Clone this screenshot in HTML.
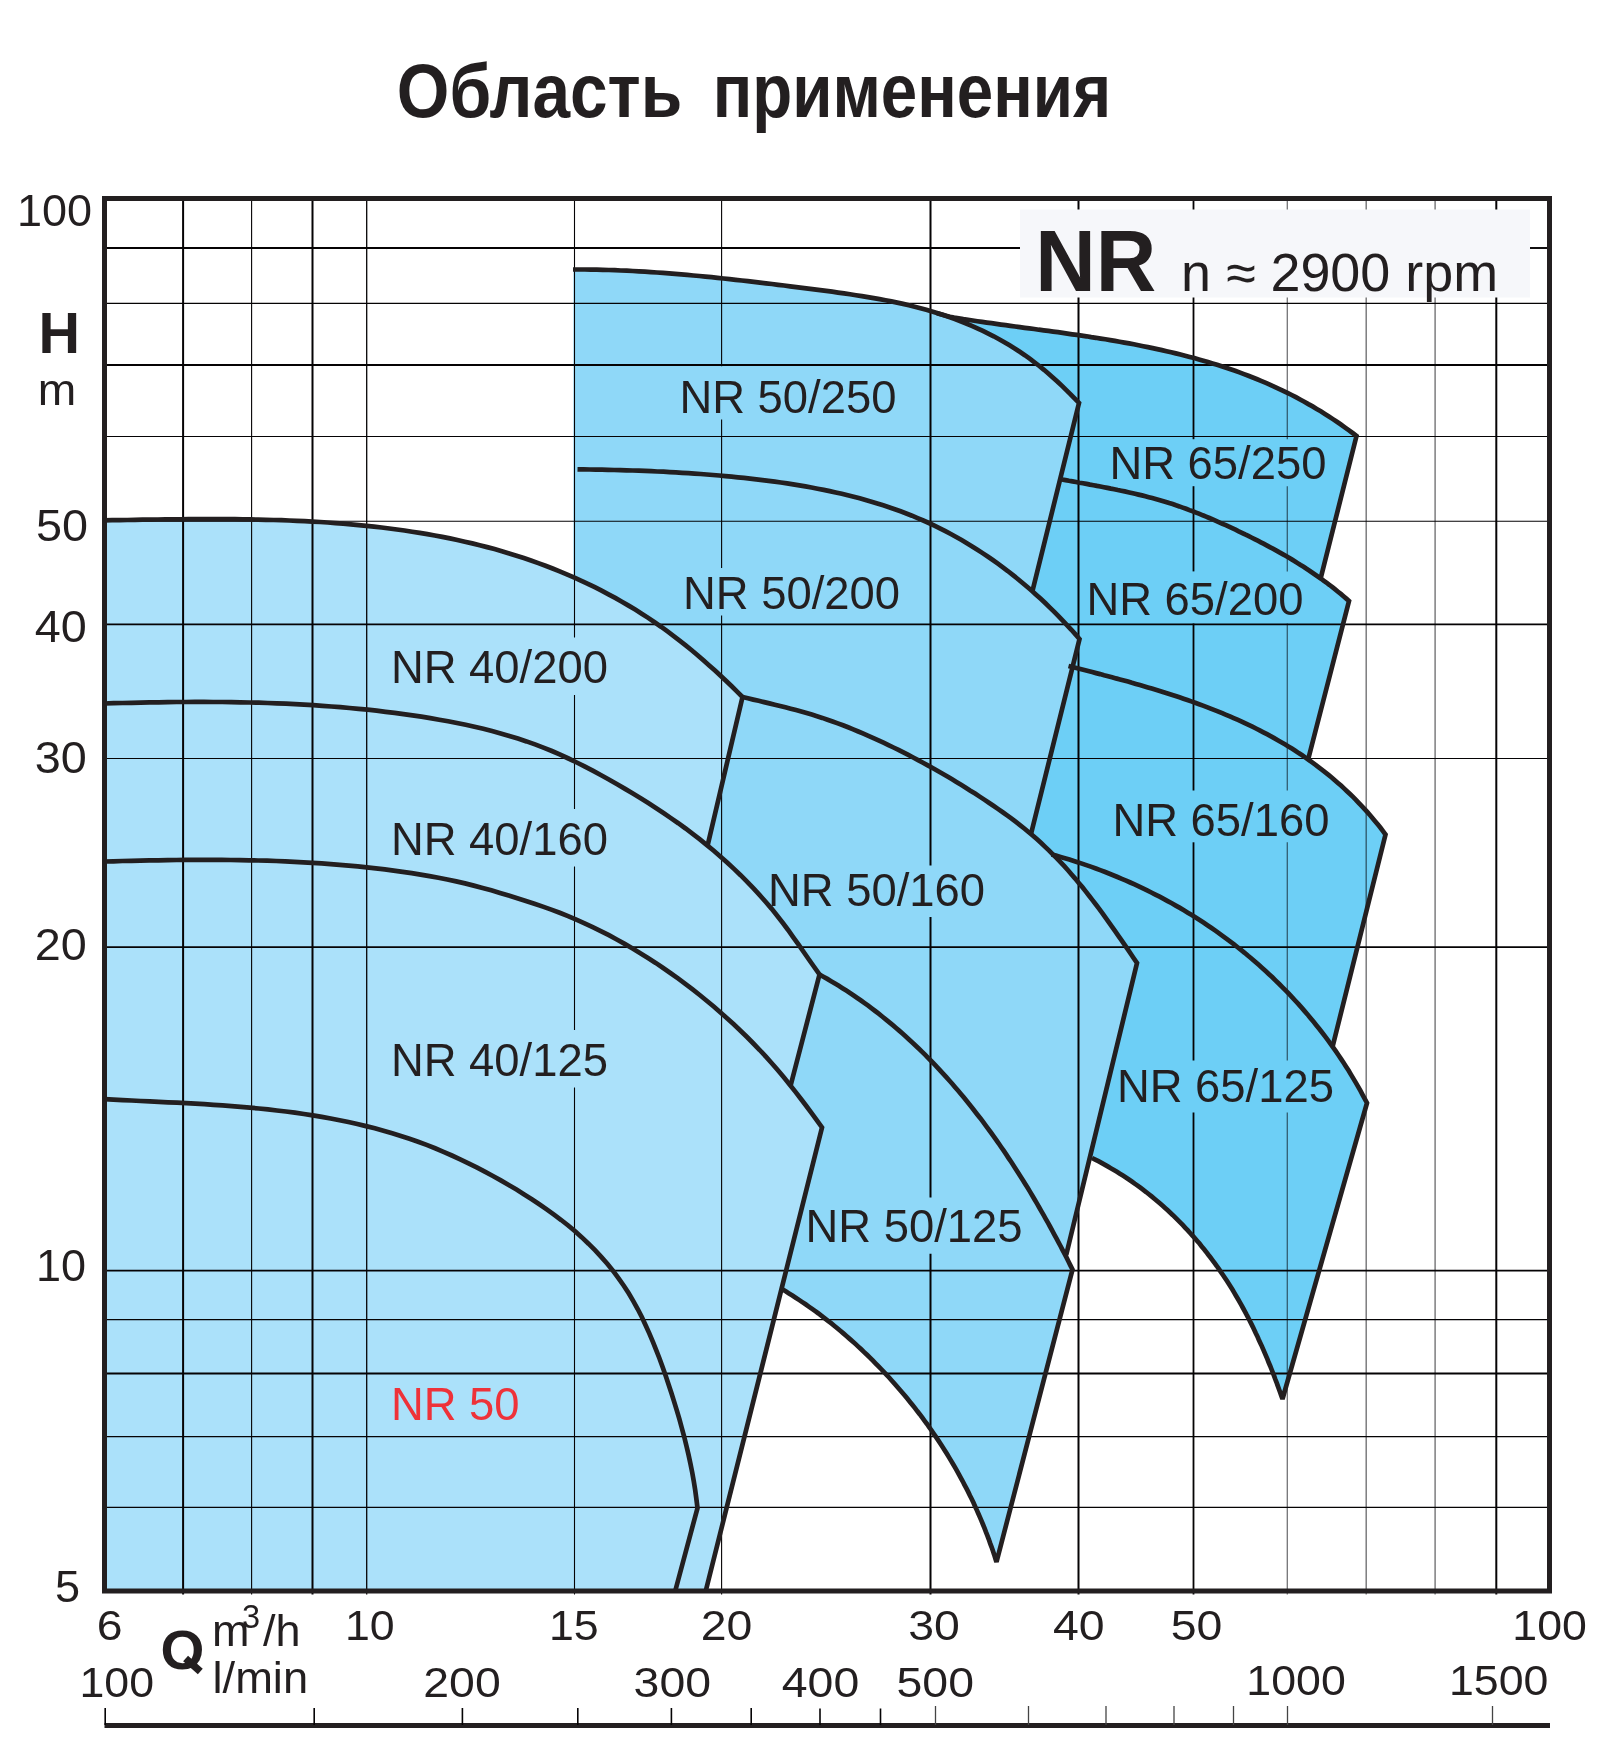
<!DOCTYPE html>
<html><head><meta charset="utf-8"><title>NR</title>
<style>
html,body{margin:0;padding:0;background:#fff;}
body{width:1600px;height:1764px;overflow:hidden;font-family:"Liberation Sans",sans-serif;}
svg{display:block;}
text{font-family:"Liberation Sans",sans-serif;fill:#231f20;}
</style></head><body>
<svg width="1600" height="1764" viewBox="0 0 1600 1764">
<rect width="1600" height="1764" fill="#fff"/>
<path d="M954.0,317.6 L958.7,318.3 L963.3,319.1 L968.0,319.8 L972.7,320.5 L977.4,321.2 L982.1,321.9 L986.8,322.6 L991.5,323.2 L996.2,323.9 L1001.0,324.6 L1005.7,325.2 L1010.4,325.8 L1015.2,326.5 L1019.9,327.1 L1024.7,327.8 L1029.4,328.4 L1034.2,329.0 L1038.9,329.7 L1043.7,330.3 L1048.4,330.9 L1053.2,331.6 L1057.9,332.2 L1062.7,332.9 L1067.4,333.6 L1072.2,334.3 L1077.0,334.9 L1081.7,335.6 L1086.5,336.3 L1091.2,337.1 L1096.0,337.8 L1100.7,338.6 L1105.4,339.3 L1110.2,340.1 L1114.9,340.9 L1119.6,341.7 L1124.4,342.6 L1129.1,343.4 L1133.8,344.3 L1138.5,345.2 L1143.2,346.2 L1147.9,347.1 L1152.6,348.1 L1157.2,349.1 L1161.9,350.1 L1166.5,351.2 L1171.2,352.3 L1175.8,353.4 L1180.5,354.5 L1185.1,355.7 L1189.7,356.9 L1194.3,358.1 L1198.9,359.4 L1203.4,360.7 L1208.0,362.0 L1212.5,363.4 L1217.1,364.8 L1221.6,366.3 L1226.1,367.8 L1230.6,369.3 L1235.1,370.8 L1239.5,372.4 L1244.0,374.1 L1248.4,375.8 L1252.8,377.5 L1257.2,379.3 L1261.6,381.1 L1265.9,382.9 L1270.3,384.8 L1274.6,386.8 L1278.9,388.8 L1283.2,390.8 L1287.4,392.9 L1291.7,395.0 L1295.9,397.2 L1300.1,399.5 L1304.3,401.7 L1308.4,404.1 L1312.6,406.4 L1316.7,408.9 L1320.8,411.3 L1324.9,413.9 L1328.9,416.5 L1332.9,419.1 L1336.9,421.8 L1340.9,424.5 L1344.8,427.3 L1348.7,430.1 L1352.6,433.0 L1356.5,436.0 L1356.5,436.0 L1321.0,577.0 L1321.0,577.0 L1323.9,580.8 L1326.8,582.9 L1329.6,585.0 L1332.4,587.2 L1335.2,589.4 L1338.0,591.7 L1340.8,593.9 L1343.5,596.2 L1346.3,598.6 L1349.0,601.0 L1349.0,601.0 L1308.0,760.0 L1308.0,760.0 L1312.2,762.4 L1315.6,764.8 L1318.8,767.3 L1322.1,769.8 L1325.3,772.3 L1328.5,774.9 L1331.7,777.5 L1334.8,780.2 L1337.9,782.9 L1341.0,785.6 L1344.0,788.4 L1347.0,791.2 L1350.0,794.0 L1353.0,796.9 L1355.9,799.8 L1358.7,802.8 L1361.6,805.8 L1364.4,808.8 L1367.2,811.9 L1369.9,815.0 L1372.6,818.2 L1375.3,821.4 L1377.9,824.6 L1380.5,827.8 L1383.0,831.2 L1385.5,834.5 L1385.5,834.5 L1332.5,1047.0 L1332.5,1047.0 L1335.8,1051.2 L1338.4,1055.0 L1341.0,1058.9 L1343.6,1062.8 L1346.1,1066.7 L1348.6,1070.6 L1351.0,1074.6 L1353.4,1078.6 L1355.8,1082.6 L1358.1,1086.6 L1360.4,1090.7 L1362.6,1094.8 L1364.8,1098.9 L1367.0,1103.0 L1367.0,1103.0 L1282.5,1399.0 L1282.5,1399.0 L1281.3,1395.7 L1280.1,1392.3 L1278.9,1389.0 L1277.7,1385.6 L1276.5,1382.3 L1275.2,1379.0 L1274.0,1375.7 L1272.7,1372.4 L1271.4,1369.0 L1270.1,1365.7 L1268.7,1362.5 L1267.4,1359.2 L1266.0,1355.9 L1264.6,1352.6 L1263.2,1349.4 L1261.8,1346.1 L1260.3,1342.9 L1258.8,1339.7 L1257.4,1336.4 L1255.8,1333.2 L1254.3,1330.0 L1252.8,1326.8 L1251.2,1323.7 L1249.6,1320.5 L1248.0,1317.3 L1246.3,1314.2 L1244.7,1311.1 L1243.0,1308.0 L1241.3,1304.9 L1239.6,1301.8 L1237.8,1298.7 L1236.0,1295.7 L1234.2,1292.6 L1232.4,1289.6 L1230.5,1286.6 L1228.6,1283.6 L1226.7,1280.6 L1224.8,1277.7 L1222.8,1274.7 L1220.8,1271.8 L1218.8,1268.9 L1216.8,1266.0 L1214.7,1263.1 L1212.6,1260.3 L1210.5,1257.5 L1208.3,1254.7 L1206.2,1251.9 L1203.9,1249.1 L1201.7,1246.4 L1199.5,1243.6 L1197.2,1240.9 L1194.9,1238.3 L1192.5,1235.6 L1190.1,1233.0 L1187.8,1230.4 L1185.3,1227.8 L1182.9,1225.2 L1180.4,1222.7 L1177.9,1220.2 L1175.4,1217.7 L1172.9,1215.2 L1170.3,1212.8 L1167.7,1210.3 L1165.1,1208.0 L1162.4,1205.6 L1159.8,1203.3 L1157.1,1201.0 L1154.4,1198.7 L1151.6,1196.4 L1148.9,1194.2 L1146.1,1192.0 L1143.3,1189.9 L1140.4,1187.7 L1137.6,1185.6 L1134.7,1183.6 L1131.8,1181.5 L1128.9,1179.5 L1125.9,1177.5 L1122.9,1175.6 L1119.9,1173.7 L1116.9,1171.8 L1113.9,1170.0 L1110.8,1168.2 L1107.7,1166.4 L1104.6,1164.6 L1101.5,1162.9 L1098.4,1161.2 L1095.2,1159.6 L1092.0,1158.0 L1092.0,1158.0 L1000.0,1100.0 L960.0,320.0 Z" fill="#6dcff6"/>
<path d="M573.5,577.0 L573.5,269.5 L573.0,269.5 L578.9,269.5 L584.9,269.5 L590.9,269.6 L596.8,269.7 L602.8,269.9 L608.8,270.0 L614.8,270.2 L620.8,270.5 L626.8,270.7 L632.8,271.0 L638.9,271.4 L644.9,271.7 L650.9,272.1 L657.0,272.5 L663.0,272.9 L669.1,273.4 L675.1,273.9 L681.2,274.4 L687.2,274.9 L693.3,275.5 L699.4,276.0 L705.4,276.6 L711.5,277.2 L717.5,277.8 L723.6,278.5 L729.7,279.1 L735.7,279.8 L741.8,280.5 L747.8,281.2 L753.9,281.9 L760.0,282.6 L766.0,283.3 L772.0,284.0 L778.1,284.8 L784.1,285.5 L790.1,286.3 L796.2,287.1 L802.2,287.8 L808.2,288.6 L814.2,289.4 L820.2,290.1 L826.2,290.9 L832.2,291.7 L838.1,292.6 L844.1,293.4 L850.0,294.3 L856.0,295.2 L861.9,296.1 L867.8,297.1 L873.7,298.1 L879.6,299.1 L885.5,300.2 L891.4,301.4 L897.2,302.6 L903.1,303.9 L908.9,305.3 L914.7,306.7 L920.5,308.2 L926.3,309.8 L932.0,311.5 L937.8,313.3 L943.5,315.1 L949.2,317.1 L954.9,319.1 L960.6,321.3 L966.2,323.5 L971.8,325.9 L977.3,328.3 L982.9,330.9 L988.3,333.6 L993.7,336.3 L999.1,339.2 L1004.4,342.2 L1009.6,345.3 L1014.7,348.5 L1019.8,351.8 L1024.8,355.2 L1029.7,358.7 L1034.5,362.3 L1039.3,366.0 L1044.0,369.8 L1048.6,373.7 L1053.1,377.7 L1057.6,381.7 L1062.0,385.9 L1066.3,390.1 L1070.6,394.3 L1074.8,398.6 L1079.0,403.0 L1079.0,403.0 L1032.4,591.3 L1032.4,591.3 L1036.4,594.9 L1041.0,599.0 L1045.5,603.3 L1049.9,607.6 L1054.3,611.9 L1058.7,616.3 L1063.0,620.8 L1067.2,625.3 L1071.4,629.8 L1075.5,634.4 L1079.5,639.0 L1079.5,639.0 L1031.0,834.0 L1031.0,834.0 L1036.8,839.1 L1040.9,842.8 L1044.9,846.6 L1048.9,850.4 L1052.8,854.3 L1056.7,858.2 L1060.5,862.2 L1064.3,866.2 L1068.0,870.3 L1071.6,874.5 L1075.2,878.6 L1078.8,882.9 L1082.3,887.1 L1085.7,891.4 L1089.1,895.8 L1092.5,900.1 L1095.9,904.5 L1099.2,908.9 L1102.5,913.4 L1105.7,917.8 L1108.9,922.3 L1112.1,926.8 L1115.3,931.3 L1118.4,935.8 L1121.6,940.4 L1124.7,944.9 L1127.8,949.4 L1130.9,954.0 L1133.9,958.5 L1137.0,963.0 L1137.0,963.0 L1066.2,1255.0 L1066.2,1255.0 L1066.6,1257.7 L1068.6,1261.7 L1070.5,1265.6 L1072.5,1269.5 L1072.5,1269.5 L996.5,1562.0 L996.5,1562.0 L995.3,1558.2 L994.1,1554.4 L992.8,1550.6 L991.5,1546.8 L990.1,1543.1 L988.8,1539.3 L987.4,1535.6 L985.9,1531.9 L984.5,1528.2 L983.0,1524.5 L981.5,1520.8 L979.9,1517.1 L978.3,1513.5 L976.7,1509.9 L975.0,1506.2 L973.4,1502.6 L971.7,1499.0 L969.9,1495.5 L968.2,1491.9 L966.4,1488.4 L964.5,1484.8 L962.7,1481.3 L960.8,1477.8 L958.9,1474.3 L957.0,1470.9 L955.0,1467.4 L953.0,1464.0 L951.0,1460.6 L948.9,1457.1 L946.9,1453.8 L944.8,1450.4 L942.6,1447.0 L940.5,1443.7 L938.3,1440.4 L936.1,1437.1 L933.8,1433.8 L931.6,1430.5 L929.3,1427.3 L927.0,1424.0 L924.6,1420.8 L922.3,1417.6 L919.9,1414.4 L917.4,1411.3 L915.0,1408.1 L912.5,1405.0 L910.0,1401.9 L907.5,1398.8 L905.0,1395.7 L902.4,1392.7 L899.8,1389.7 L897.2,1386.7 L894.6,1383.7 L891.9,1380.7 L889.3,1377.7 L886.6,1374.8 L883.8,1371.9 L881.1,1369.0 L878.3,1366.1 L875.5,1363.3 L872.7,1360.4 L869.9,1357.6 L867.0,1354.8 L864.1,1352.1 L861.2,1349.3 L858.3,1346.6 L855.4,1343.9 L852.4,1341.2 L849.4,1338.6 L846.4,1336.0 L843.4,1333.4 L840.3,1330.8 L837.3,1328.3 L834.2,1325.7 L831.1,1323.2 L828.0,1320.8 L824.8,1318.3 L821.6,1315.9 L818.5,1313.5 L815.3,1311.2 L812.1,1308.9 L808.8,1306.6 L805.6,1304.3 L802.3,1302.1 L799.0,1299.9 L795.7,1297.7 L792.4,1295.5 L789.0,1293.4 L785.7,1291.3 L782.3,1289.3 L782.3,1289.5 L700.0,1100.0 L700.0,660.0 Z" fill="#8fd8f8"/>
<path d="M104.5,1591.0 L104.5,520.3 L104.5,520.3 L112.1,520.2 L119.7,520.1 L127.3,520.0 L134.9,519.8 L142.5,519.7 L150.2,519.6 L157.9,519.5 L165.5,519.4 L173.2,519.3 L180.9,519.3 L188.6,519.2 L196.3,519.2 L204.0,519.1 L211.8,519.1 L219.5,519.1 L227.2,519.2 L235.0,519.2 L242.7,519.3 L250.4,519.4 L258.2,519.6 L265.9,519.8 L273.7,520.0 L281.4,520.2 L289.2,520.5 L296.9,520.8 L304.6,521.2 L312.4,521.6 L320.1,522.0 L327.8,522.5 L335.5,523.1 L343.2,523.7 L350.9,524.3 L358.6,525.1 L366.3,525.8 L374.0,526.6 L381.6,527.5 L389.3,528.5 L396.9,529.5 L404.5,530.5 L412.1,531.7 L419.7,532.9 L427.3,534.1 L434.8,535.5 L442.3,536.9 L449.9,538.4 L457.4,540.0 L464.8,541.7 L472.3,543.4 L479.7,545.2 L487.1,547.1 L494.5,549.1 L501.9,551.2 L509.2,553.4 L516.5,555.7 L523.8,558.1 L531.0,560.5 L538.3,563.1 L545.5,565.7 L552.6,568.5 L559.7,571.4 L566.8,574.3 L573.9,577.4 L580.9,580.6 L587.9,583.8 L594.8,587.2 L601.6,590.7 L608.5,594.3 L615.2,597.9 L621.9,601.7 L628.6,605.6 L635.2,609.6 L641.7,613.7 L648.2,617.9 L654.6,622.3 L661.0,626.7 L667.2,631.2 L673.4,635.8 L679.6,640.6 L685.7,645.4 L691.7,650.3 L697.6,655.2 L703.4,660.3 L709.2,665.4 L715.0,670.5 L720.6,675.7 L726.2,681.0 L731.7,686.3 L737.1,691.6 L742.5,697.0 L742.5,697.0 L707.6,845.5 L707.6,845.5 L713.8,850.8 L720.6,856.7 L727.4,862.7 L734.0,868.9 L740.6,875.2 L747.0,881.6 L753.3,888.2 L759.5,894.9 L765.6,901.7 L771.5,908.6 L777.2,915.7 L782.7,922.8 L788.1,930.0 L793.3,937.3 L798.6,944.6 L803.7,952.0 L808.9,959.5 L814.2,967.0 L819.5,974.5 L819.5,974.5 L790.5,1086.0 L790.5,1086.0 L795.3,1091.6 L800.8,1098.8 L806.3,1106.0 L811.6,1113.2 L816.9,1120.4 L822.0,1127.5 L822.0,1127.5 L706.0,1590.0 Z" fill="#abe1fa"/>
<rect x="1020" y="209.5" width="510" height="88" fill="#f6f7fa"/>
<line x1="183.10" y1="198.5" x2="183.10" y2="1594.5" stroke="#050304" stroke-width="2.0"/>
<line x1="251.60" y1="198.5" x2="251.60" y2="1594.5" stroke="#050304" stroke-width="1.1"/>
<line x1="312.50" y1="198.5" x2="312.50" y2="1594.5" stroke="#050304" stroke-width="2.0"/>
<line x1="366.70" y1="198.5" x2="366.70" y2="1594.5" stroke="#050304" stroke-width="1.3"/>
<line x1="574.50" y1="198.5" x2="574.50" y2="637.5" stroke="#050304" stroke-width="1.1"/>
<line x1="574.50" y1="695.0" x2="574.50" y2="809.0" stroke="#050304" stroke-width="1.1"/>
<line x1="574.50" y1="866.5" x2="574.50" y2="1030.0" stroke="#050304" stroke-width="1.1"/>
<line x1="574.50" y1="1087.5" x2="574.50" y2="1594.5" stroke="#050304" stroke-width="1.1"/>
<line x1="721.60" y1="198.5" x2="721.60" y2="366.3" stroke="#050304" stroke-width="1.1"/>
<line x1="721.60" y1="419.5" x2="721.60" y2="568.0" stroke="#050304" stroke-width="1.1"/>
<line x1="721.60" y1="615.5" x2="721.60" y2="1594.5" stroke="#050304" stroke-width="1.1"/>
<line x1="930.50" y1="198.5" x2="930.50" y2="865.5" stroke="#050304" stroke-width="2.0"/>
<line x1="930.50" y1="917.0" x2="930.50" y2="1197.5" stroke="#050304" stroke-width="2.0"/>
<line x1="930.50" y1="1253.7" x2="930.50" y2="1594.5" stroke="#050304" stroke-width="2.0"/>
<line x1="1078.50" y1="198.5" x2="1078.50" y2="209.5" stroke="#050304" stroke-width="2.0"/>
<line x1="1078.50" y1="297.5" x2="1078.50" y2="1594.5" stroke="#050304" stroke-width="2.0"/>
<line x1="1193.50" y1="198.5" x2="1193.50" y2="209.5" stroke="#050304" stroke-width="1.8"/>
<line x1="1193.50" y1="297.5" x2="1193.50" y2="439.2" stroke="#050304" stroke-width="1.8"/>
<line x1="1193.50" y1="486.2" x2="1193.50" y2="571.4" stroke="#050304" stroke-width="1.8"/>
<line x1="1193.50" y1="623.5" x2="1193.50" y2="790.5" stroke="#050304" stroke-width="1.8"/>
<line x1="1193.50" y1="842.3" x2="1193.50" y2="1060.5" stroke="#050304" stroke-width="1.8"/>
<line x1="1193.50" y1="1112.5" x2="1193.50" y2="1594.5" stroke="#050304" stroke-width="1.8"/>
<line x1="1287.30" y1="198.5" x2="1287.30" y2="209.5" stroke="#737375" stroke-width="1.3" style="mix-blend-mode:multiply"/>
<line x1="1287.30" y1="297.5" x2="1287.30" y2="439.2" stroke="#737375" stroke-width="1.3" style="mix-blend-mode:multiply"/>
<line x1="1287.30" y1="486.2" x2="1287.30" y2="571.4" stroke="#737375" stroke-width="1.3" style="mix-blend-mode:multiply"/>
<line x1="1287.30" y1="623.5" x2="1287.30" y2="790.5" stroke="#737375" stroke-width="1.3" style="mix-blend-mode:multiply"/>
<line x1="1287.30" y1="842.3" x2="1287.30" y2="1060.5" stroke="#737375" stroke-width="1.3" style="mix-blend-mode:multiply"/>
<line x1="1287.30" y1="1112.5" x2="1287.30" y2="1594.5" stroke="#737375" stroke-width="1.3" style="mix-blend-mode:multiply"/>
<line x1="1366.20" y1="198.5" x2="1366.20" y2="209.5" stroke="#737375" stroke-width="1.4" style="mix-blend-mode:multiply"/>
<line x1="1366.20" y1="297.5" x2="1366.20" y2="1594.5" stroke="#737375" stroke-width="1.4" style="mix-blend-mode:multiply"/>
<line x1="1435.10" y1="198.5" x2="1435.10" y2="209.5" stroke="#737375" stroke-width="1.4" style="mix-blend-mode:multiply"/>
<line x1="1435.10" y1="297.5" x2="1435.10" y2="1594.5" stroke="#737375" stroke-width="1.4" style="mix-blend-mode:multiply"/>
<line x1="1496.30" y1="198.5" x2="1496.30" y2="209.5" stroke="#050304" stroke-width="2.0"/>
<line x1="1496.30" y1="297.5" x2="1496.30" y2="1594.5" stroke="#050304" stroke-width="2.0"/>
<line x1="104.5" y1="248.00" x2="1020.0" y2="248.00" stroke="#050304" stroke-width="1.9"/>
<line x1="1530.0" y1="248.00" x2="1549.5" y2="248.00" stroke="#050304" stroke-width="1.9"/>
<line x1="104.5" y1="303.40" x2="1549.5" y2="303.40" stroke="#050304" stroke-width="1.1"/>
<line x1="104.5" y1="365.00" x2="1549.5" y2="365.00" stroke="#050304" stroke-width="1.9"/>
<line x1="104.5" y1="436.50" x2="1549.5" y2="436.50" stroke="#050304" stroke-width="1.1"/>
<line x1="104.5" y1="521.30" x2="1549.5" y2="521.30" stroke="#050304" stroke-width="1.1"/>
<line x1="104.5" y1="624.40" x2="1549.5" y2="624.40" stroke="#050304" stroke-width="1.9"/>
<line x1="104.5" y1="758.50" x2="1549.5" y2="758.50" stroke="#050304" stroke-width="1.1"/>
<line x1="104.5" y1="947.20" x2="1549.5" y2="947.20" stroke="#050304" stroke-width="1.8"/>
<line x1="104.5" y1="1270.60" x2="1549.5" y2="1270.60" stroke="#050304" stroke-width="1.8"/>
<line x1="104.5" y1="1319.60" x2="1549.5" y2="1319.60" stroke="#050304" stroke-width="1.1"/>
<line x1="104.5" y1="1373.50" x2="1549.5" y2="1373.50" stroke="#050304" stroke-width="1.8"/>
<line x1="104.5" y1="1436.60" x2="1549.5" y2="1436.60" stroke="#050304" stroke-width="1.1"/>
<line x1="104.5" y1="1507.40" x2="1549.5" y2="1507.40" stroke="#050304" stroke-width="1.1"/>
<rect x="104.5" y="198.5" width="1445.0" height="1392.5" fill="none" stroke="#231f20" stroke-width="5"/>
<path d="M104.5,520.3 L112.1,520.2 L119.7,520.1 L127.3,520.0 L134.9,519.8 L142.5,519.7 L150.2,519.6 L157.9,519.5 L165.5,519.4 L173.2,519.3 L180.9,519.3 L188.6,519.2 L196.3,519.2 L204.0,519.1 L211.8,519.1 L219.5,519.1 L227.2,519.2 L235.0,519.2 L242.7,519.3 L250.4,519.4 L258.2,519.6 L265.9,519.8 L273.7,520.0 L281.4,520.2 L289.2,520.5 L296.9,520.8 L304.6,521.2 L312.4,521.6 L320.1,522.0 L327.8,522.5 L335.5,523.1 L343.2,523.7 L350.9,524.3 L358.6,525.1 L366.3,525.8 L374.0,526.6 L381.6,527.5 L389.3,528.5 L396.9,529.5 L404.5,530.5 L412.1,531.7 L419.7,532.9 L427.3,534.1 L434.8,535.5 L442.3,536.9 L449.9,538.4 L457.4,540.0 L464.8,541.7 L472.3,543.4 L479.7,545.2 L487.1,547.1 L494.5,549.1 L501.9,551.2 L509.2,553.4 L516.5,555.7 L523.8,558.1 L531.0,560.5 L538.3,563.1 L545.5,565.7 L552.6,568.5 L559.7,571.4 L566.8,574.3 L573.9,577.4 L580.9,580.6 L587.9,583.8 L594.8,587.2 L601.6,590.7 L608.5,594.3 L615.2,597.9 L621.9,601.7 L628.6,605.6 L635.2,609.6 L641.7,613.7 L648.2,617.9 L654.6,622.3 L661.0,626.7 L667.2,631.2 L673.4,635.8 L679.6,640.6 L685.7,645.4 L691.7,650.3 L697.6,655.2 L703.4,660.3 L709.2,665.4 L715.0,670.5 L720.6,675.7 L726.2,681.0 L731.7,686.3 L737.1,691.6 L742.5,697.0 L707.6,845.5" fill="none" stroke="#231f20" stroke-width="4.7" stroke-linejoin="miter" stroke-miterlimit="3" stroke-linecap="butt"/>
<path d="M104.5,703.5 L113.5,703.2 L122.5,703.0 L131.5,702.8 L140.5,702.6 L149.5,702.4 L158.6,702.3 L167.6,702.1 L176.7,702.0 L185.8,702.0 L194.9,701.9 L204.0,701.9 L213.1,702.0 L222.2,702.0 L231.3,702.2 L240.4,702.3 L249.5,702.5 L258.6,702.7 L267.7,703.0 L276.8,703.4 L285.9,703.7 L295.0,704.2 L304.1,704.7 L313.2,705.2 L322.3,705.8 L331.4,706.5 L340.4,707.2 L349.5,708.0 L358.5,708.8 L367.6,709.7 L376.6,710.7 L385.6,711.8 L394.6,712.9 L403.5,714.1 L412.5,715.4 L421.4,716.7 L430.3,718.1 L439.2,719.7 L448.1,721.3 L456.9,723.0 L465.7,724.8 L474.5,726.8 L483.3,728.8 L492.0,731.0 L500.7,733.4 L509.3,735.9 L517.9,738.6 L526.5,741.4 L535.0,744.4 L543.4,747.6 L551.9,751.0 L560.2,754.6 L568.5,758.5 L576.8,762.5 L585.0,766.6 L593.2,770.9 L601.2,775.3 L609.3,779.7 L617.2,784.3 L625.1,788.9 L632.9,793.5 L640.7,798.3 L648.3,803.1 L655.9,808.0 L663.5,813.0 L670.9,818.1 L678.3,823.2 L685.6,828.5 L692.7,833.9 L699.9,839.4 L706.9,845.1 L713.8,850.8 L720.6,856.7 L727.4,862.7 L734.0,868.9 L740.6,875.2 L747.0,881.6 L753.3,888.2 L759.5,894.9 L765.6,901.7 L771.5,908.6 L777.2,915.7 L782.7,922.8 L788.1,930.0 L793.3,937.3 L798.6,944.6 L803.7,952.0 L808.9,959.5 L814.2,967.0 L819.5,974.5 L790.5,1086.0" fill="none" stroke="#231f20" stroke-width="4.7" stroke-linejoin="miter" stroke-miterlimit="3" stroke-linecap="butt"/>
<path d="M104.5,861.5 L113.5,861.3 L122.4,861.0 L131.4,860.8 L140.4,860.6 L149.4,860.4 L158.4,860.3 L167.5,860.1 L176.5,860.0 L185.5,859.9 L194.6,859.9 L203.6,859.8 L212.7,859.9 L221.8,859.9 L230.8,860.0 L239.9,860.1 L249.0,860.3 L258.1,860.5 L267.1,860.7 L276.2,861.0 L285.3,861.4 L294.4,861.8 L303.4,862.3 L312.5,862.8 L321.6,863.4 L330.6,864.1 L339.7,864.8 L348.7,865.6 L357.7,866.4 L366.8,867.4 L375.8,868.4 L384.8,869.4 L393.7,870.6 L402.7,871.8 L411.7,873.1 L420.6,874.6 L429.5,876.1 L438.5,877.7 L447.3,879.5 L456.2,881.4 L465.0,883.4 L473.8,885.6 L482.6,887.9 L491.3,890.3 L500.0,892.9 L508.7,895.5 L517.3,898.2 L525.9,900.9 L534.4,903.7 L542.9,906.6 L551.3,909.6 L559.7,912.8 L568.1,916.1 L576.3,919.6 L584.6,923.3 L592.7,927.1 L600.8,931.1 L608.9,935.2 L616.8,939.5 L624.7,943.9 L632.6,948.5 L640.3,953.2 L648.0,958.0 L655.7,962.9 L663.2,968.0 L670.7,973.2 L678.0,978.4 L685.3,983.8 L692.6,989.4 L699.7,995.0 L706.7,1000.7 L713.7,1006.5 L720.5,1012.4 L727.3,1018.4 L734.0,1024.5 L740.5,1030.7 L747.0,1037.0 L753.4,1043.5 L759.7,1050.0 L765.9,1056.7 L772.0,1063.5 L777.9,1070.3 L783.8,1077.3 L789.6,1084.4 L795.3,1091.6 L800.8,1098.8 L806.3,1106.0 L811.6,1113.2 L816.9,1120.4 L822.0,1127.5 L706.0,1590.0" fill="none" stroke="#231f20" stroke-width="4.7" stroke-linejoin="miter" stroke-miterlimit="3" stroke-linecap="butt"/>
<path d="M104.5,1099.2 L113.5,1099.7 L122.6,1100.1 L131.6,1100.5 L140.7,1101.0 L149.8,1101.4 L158.9,1101.8 L168.0,1102.3 L177.1,1102.7 L186.2,1103.2 L195.3,1103.7 L204.4,1104.2 L213.5,1104.8 L222.5,1105.4 L231.6,1106.1 L240.7,1106.9 L249.8,1107.6 L258.8,1108.5 L267.9,1109.4 L276.9,1110.5 L285.9,1111.5 L294.9,1112.7 L303.9,1114.0 L312.8,1115.4 L321.8,1116.9 L330.7,1118.5 L339.6,1120.2 L348.4,1122.0 L357.3,1124.0 L366.0,1126.1 L374.8,1128.3 L383.5,1130.7 L392.2,1133.2 L400.9,1135.9 L409.5,1138.7 L418.1,1141.7 L426.6,1144.9 L435.1,1148.3 L443.5,1151.8 L451.9,1155.5 L460.2,1159.3 L468.5,1163.3 L476.7,1167.4 L484.8,1171.6 L492.9,1176.0 L500.8,1180.4 L508.7,1185.0 L516.5,1189.6 L524.2,1194.4 L531.8,1199.2 L539.3,1204.2 L546.7,1209.3 L554.0,1214.6 L561.2,1220.0 L568.2,1225.5 L575.1,1231.3 L581.9,1237.4 L588.5,1243.7 L595.0,1250.2 L601.2,1256.9 L607.3,1263.8 L613.1,1270.9 L618.6,1278.3 L623.8,1285.7 L628.7,1293.3 L633.3,1301.1 L637.7,1309.0 L641.8,1317.0 L645.6,1325.2 L649.3,1333.4 L652.8,1341.7 L656.2,1350.1 L659.5,1358.5 L662.6,1367.0 L665.6,1375.6 L668.5,1384.2 L671.4,1392.9 L674.1,1401.6 L676.8,1410.4 L679.4,1419.2 L681.8,1428.0 L684.2,1436.8 L686.4,1445.7 L688.5,1454.6 L690.4,1463.5 L692.2,1472.4 L693.8,1481.3 L695.2,1490.2 L696.4,1499.1 L697.5,1508.0 L675.5,1590.0" fill="none" stroke="#231f20" stroke-width="4.7" stroke-linejoin="miter" stroke-miterlimit="3" stroke-linecap="butt"/>
<path d="M573.0,269.5 L578.9,269.5 L584.9,269.5 L590.9,269.6 L596.8,269.7 L602.8,269.9 L608.8,270.0 L614.8,270.2 L620.8,270.5 L626.8,270.7 L632.8,271.0 L638.9,271.4 L644.9,271.7 L650.9,272.1 L657.0,272.5 L663.0,272.9 L669.1,273.4 L675.1,273.9 L681.2,274.4 L687.2,274.9 L693.3,275.5 L699.4,276.0 L705.4,276.6 L711.5,277.2 L717.5,277.8 L723.6,278.5 L729.7,279.1 L735.7,279.8 L741.8,280.5 L747.8,281.2 L753.9,281.9 L760.0,282.6 L766.0,283.3 L772.0,284.0 L778.1,284.8 L784.1,285.5 L790.1,286.3 L796.2,287.1 L802.2,287.8 L808.2,288.6 L814.2,289.4 L820.2,290.1 L826.2,290.9 L832.2,291.7 L838.1,292.6 L844.1,293.4 L850.0,294.3 L856.0,295.2 L861.9,296.1 L867.8,297.1 L873.7,298.1 L879.6,299.1 L885.5,300.2 L891.4,301.4 L897.2,302.6 L903.1,303.9 L908.9,305.3 L914.7,306.7 L920.5,308.2 L926.3,309.8 L932.0,311.5 L937.8,313.3 L943.5,315.1 L949.2,317.1 L954.9,319.1 L960.6,321.3 L966.2,323.5 L971.8,325.9 L977.3,328.3 L982.9,330.9 L988.3,333.6 L993.7,336.3 L999.1,339.2 L1004.4,342.2 L1009.6,345.3 L1014.7,348.5 L1019.8,351.8 L1024.8,355.2 L1029.7,358.7 L1034.5,362.3 L1039.3,366.0 L1044.0,369.8 L1048.6,373.7 L1053.1,377.7 L1057.6,381.7 L1062.0,385.9 L1066.3,390.1 L1070.6,394.3 L1074.8,398.6 L1079.0,403.0 L1032.4,591.3" fill="none" stroke="#231f20" stroke-width="4.7" stroke-linejoin="miter" stroke-miterlimit="3" stroke-linecap="butt"/>
<path d="M577.5,469.3 L583.6,469.4 L589.7,469.5 L595.8,469.6 L601.9,469.7 L608.1,469.8 L614.2,470.0 L620.4,470.1 L626.5,470.3 L632.7,470.5 L638.8,470.7 L645.0,470.9 L651.2,471.2 L657.3,471.5 L663.5,471.7 L669.7,472.1 L675.9,472.4 L682.1,472.8 L688.3,473.2 L694.5,473.6 L700.7,474.0 L706.8,474.5 L713.0,475.0 L719.2,475.5 L725.4,476.1 L731.6,476.6 L737.8,477.3 L744.0,477.9 L750.1,478.6 L756.3,479.3 L762.5,480.1 L768.6,480.8 L774.8,481.7 L780.9,482.5 L787.1,483.4 L793.2,484.4 L799.3,485.4 L805.4,486.4 L811.5,487.5 L817.6,488.7 L823.7,489.9 L829.7,491.1 L835.7,492.5 L841.8,493.8 L847.7,495.3 L853.7,496.8 L859.7,498.3 L865.6,500.0 L871.5,501.7 L877.3,503.5 L883.2,505.3 L889.0,507.2 L894.8,509.2 L900.6,511.3 L906.3,513.5 L912.0,515.7 L917.6,518.1 L923.3,520.5 L928.9,523.0 L934.4,525.6 L939.9,528.3 L945.4,531.1 L950.8,534.0 L956.2,537.0 L961.6,540.0 L966.9,543.2 L972.2,546.4 L977.4,549.7 L982.6,553.1 L987.7,556.5 L992.8,560.0 L997.9,563.6 L1002.9,567.3 L1007.8,571.0 L1012.7,574.9 L1017.5,578.7 L1022.3,582.7 L1027.1,586.7 L1031.8,590.7 L1036.4,594.9 L1041.0,599.0 L1045.5,603.3 L1049.9,607.6 L1054.3,611.9 L1058.7,616.3 L1063.0,620.8 L1067.2,625.3 L1071.4,629.8 L1075.5,634.4 L1079.5,639.0 L1031.0,834.0" fill="none" stroke="#231f20" stroke-width="4.7" stroke-linejoin="miter" stroke-miterlimit="3" stroke-linecap="butt"/>
<path d="M742.5,697.0 L747.9,698.3 L753.3,699.6 L758.7,700.8 L764.1,702.1 L769.4,703.4 L774.8,704.7 L780.1,706.0 L785.4,707.3 L790.7,708.7 L796.0,710.1 L801.3,711.6 L806.6,713.1 L811.8,714.6 L817.0,716.2 L822.3,717.9 L827.5,719.7 L832.6,721.5 L837.8,723.4 L843.0,725.3 L848.1,727.3 L853.2,729.4 L858.3,731.5 L863.4,733.6 L868.4,735.8 L873.5,738.1 L878.5,740.4 L883.5,742.7 L888.5,745.1 L893.5,747.5 L898.5,749.9 L903.4,752.4 L908.3,754.9 L913.2,757.5 L918.1,760.1 L923.0,762.7 L927.8,765.4 L932.6,768.0 L937.4,770.8 L942.2,773.5 L947.0,776.3 L951.7,779.1 L956.4,782.0 L961.1,784.8 L965.8,787.7 L970.4,790.7 L975.1,793.6 L979.7,796.6 L984.3,799.6 L988.9,802.7 L993.4,805.8 L997.9,808.9 L1002.4,812.0 L1006.8,815.2 L1011.3,818.4 L1015.6,821.7 L1020.0,825.1 L1024.3,828.5 L1028.5,832.0 L1032.7,835.5 L1036.8,839.1 L1040.9,842.8 L1044.9,846.6 L1048.9,850.4 L1052.8,854.3 L1056.7,858.2 L1060.5,862.2 L1064.3,866.2 L1068.0,870.3 L1071.6,874.5 L1075.2,878.6 L1078.8,882.9 L1082.3,887.1 L1085.7,891.4 L1089.1,895.8 L1092.5,900.1 L1095.9,904.5 L1099.2,908.9 L1102.5,913.4 L1105.7,917.8 L1108.9,922.3 L1112.1,926.8 L1115.3,931.3 L1118.4,935.8 L1121.6,940.4 L1124.7,944.9 L1127.8,949.4 L1130.9,954.0 L1133.9,958.5 L1137.0,963.0 L1066.2,1255.0" fill="none" stroke="#231f20" stroke-width="4.7" stroke-linejoin="miter" stroke-miterlimit="3" stroke-linecap="butt"/>
<path d="M937.0,313.2 L945.0,315.4 L950.0,316.7 L954.0,317.6 L958.7,318.3 L963.3,319.1 L968.0,319.8 L972.7,320.5 L977.4,321.2 L982.1,321.9 L986.8,322.6 L991.5,323.2 L996.2,323.9 L1001.0,324.6 L1005.7,325.2 L1010.4,325.8 L1015.2,326.5 L1019.9,327.1 L1024.7,327.8 L1029.4,328.4 L1034.2,329.0 L1038.9,329.7 L1043.7,330.3 L1048.4,330.9 L1053.2,331.6 L1057.9,332.2 L1062.7,332.9 L1067.4,333.6 L1072.2,334.3 L1077.0,334.9 L1081.7,335.6 L1086.5,336.3 L1091.2,337.1 L1096.0,337.8 L1100.7,338.6 L1105.4,339.3 L1110.2,340.1 L1114.9,340.9 L1119.6,341.7 L1124.4,342.6 L1129.1,343.4 L1133.8,344.3 L1138.5,345.2 L1143.2,346.2 L1147.9,347.1 L1152.6,348.1 L1157.2,349.1 L1161.9,350.1 L1166.5,351.2 L1171.2,352.3 L1175.8,353.4 L1180.5,354.5 L1185.1,355.7 L1189.7,356.9 L1194.3,358.1 L1198.9,359.4 L1203.4,360.7 L1208.0,362.0 L1212.5,363.4 L1217.1,364.8 L1221.6,366.3 L1226.1,367.8 L1230.6,369.3 L1235.1,370.8 L1239.5,372.4 L1244.0,374.1 L1248.4,375.8 L1252.8,377.5 L1257.2,379.3 L1261.6,381.1 L1265.9,382.9 L1270.3,384.8 L1274.6,386.8 L1278.9,388.8 L1283.2,390.8 L1287.4,392.9 L1291.7,395.0 L1295.9,397.2 L1300.1,399.5 L1304.3,401.7 L1308.4,404.1 L1312.6,406.4 L1316.7,408.9 L1320.8,411.3 L1324.9,413.9 L1328.9,416.5 L1332.9,419.1 L1336.9,421.8 L1340.9,424.5 L1344.8,427.3 L1348.7,430.1 L1352.6,433.0 L1356.5,436.0 L1321.0,577.0" fill="none" stroke="#231f20" stroke-width="4.7" stroke-linejoin="miter" stroke-miterlimit="3" stroke-linecap="butt"/>
<path d="M1062.0,479.5 L1065.5,480.1 L1069.0,480.8 L1072.5,481.4 L1076.0,482.0 L1079.5,482.7 L1083.0,483.3 L1086.5,483.9 L1090.0,484.6 L1093.5,485.2 L1097.0,485.9 L1100.4,486.5 L1103.9,487.2 L1107.4,487.9 L1110.9,488.6 L1114.3,489.2 L1117.8,490.0 L1121.3,490.7 L1124.7,491.4 L1128.2,492.2 L1131.6,493.0 L1135.1,493.8 L1138.5,494.6 L1142.0,495.4 L1145.4,496.3 L1148.8,497.2 L1152.2,498.1 L1155.6,499.0 L1159.1,500.0 L1162.5,501.0 L1165.9,502.0 L1169.2,503.1 L1172.6,504.1 L1176.0,505.3 L1179.4,506.4 L1182.7,507.6 L1186.1,508.8 L1189.4,510.1 L1192.8,511.3 L1196.1,512.6 L1199.5,513.9 L1202.8,515.3 L1206.1,516.6 L1209.4,518.0 L1212.7,519.4 L1216.0,520.9 L1219.2,522.3 L1222.5,523.8 L1225.8,525.2 L1229.0,526.7 L1232.2,528.2 L1235.5,529.7 L1238.7,531.3 L1241.9,532.8 L1245.1,534.4 L1248.3,535.9 L1251.4,537.5 L1254.6,539.1 L1257.8,540.7 L1260.9,542.3 L1264.0,543.9 L1267.1,545.6 L1270.3,547.3 L1273.3,548.9 L1276.4,550.6 L1279.5,552.4 L1282.6,554.1 L1285.6,555.8 L1288.6,557.6 L1291.7,559.4 L1294.7,561.2 L1297.6,563.1 L1300.6,565.0 L1303.6,566.8 L1306.5,568.8 L1309.5,570.7 L1312.4,572.7 L1315.3,574.7 L1318.2,576.7 L1321.1,578.7 L1323.9,580.8 L1326.8,582.9 L1329.6,585.0 L1332.4,587.2 L1335.2,589.4 L1338.0,591.7 L1340.8,593.9 L1343.5,596.2 L1346.3,598.6 L1349.0,601.0 L1308.0,760.0" fill="none" stroke="#231f20" stroke-width="4.7" stroke-linejoin="miter" stroke-miterlimit="3" stroke-linecap="butt"/>
<path d="M1068.5,666.0 L1072.4,667.0 L1076.4,668.0 L1080.3,669.0 L1084.3,670.0 L1088.2,671.0 L1092.2,672.1 L1096.1,673.1 L1100.1,674.1 L1104.1,675.2 L1108.1,676.2 L1112.0,677.3 L1116.0,678.4 L1120.0,679.4 L1124.0,680.5 L1128.0,681.6 L1131.9,682.8 L1135.9,683.9 L1139.9,685.0 L1143.9,686.2 L1147.9,687.4 L1151.8,688.6 L1155.8,689.8 L1159.8,691.0 L1163.7,692.2 L1167.7,693.5 L1171.6,694.7 L1175.6,696.0 L1179.5,697.3 L1183.5,698.7 L1187.4,700.0 L1191.3,701.4 L1195.2,702.8 L1199.1,704.2 L1203.0,705.6 L1206.9,707.1 L1210.7,708.6 L1214.6,710.1 L1218.4,711.6 L1222.2,713.2 L1226.1,714.8 L1229.9,716.4 L1233.7,718.1 L1237.4,719.7 L1241.2,721.4 L1244.9,723.2 L1248.6,724.9 L1252.4,726.7 L1256.0,728.5 L1259.7,730.4 L1263.4,732.3 L1267.0,734.2 L1270.6,736.1 L1274.2,738.1 L1277.8,740.2 L1281.3,742.2 L1284.9,744.3 L1288.4,746.4 L1291.9,748.6 L1295.3,750.8 L1298.7,753.1 L1302.2,755.3 L1305.5,757.6 L1308.9,760.0 L1312.2,762.4 L1315.6,764.8 L1318.8,767.3 L1322.1,769.8 L1325.3,772.3 L1328.5,774.9 L1331.7,777.5 L1334.8,780.2 L1337.9,782.9 L1341.0,785.6 L1344.0,788.4 L1347.0,791.2 L1350.0,794.0 L1353.0,796.9 L1355.9,799.8 L1358.7,802.8 L1361.6,805.8 L1364.4,808.8 L1367.2,811.9 L1369.9,815.0 L1372.6,818.2 L1375.3,821.4 L1377.9,824.6 L1380.5,827.8 L1383.0,831.2 L1385.5,834.5 L1332.5,1047.0" fill="none" stroke="#231f20" stroke-width="4.7" stroke-linejoin="miter" stroke-miterlimit="3" stroke-linecap="butt"/>
<path d="M819.5,974.5 L823.4,976.7 L827.3,978.9 L831.1,981.2 L835.0,983.5 L838.8,985.8 L842.5,988.2 L846.3,990.6 L850.0,993.0 L853.7,995.5 L857.3,998.0 L861.0,1000.5 L864.6,1003.1 L868.2,1005.7 L871.7,1008.4 L875.2,1011.0 L878.7,1013.7 L882.2,1016.5 L885.7,1019.3 L889.1,1022.1 L892.5,1024.9 L895.8,1027.7 L899.2,1030.6 L902.5,1033.5 L905.8,1036.5 L909.0,1039.5 L912.3,1042.5 L915.5,1045.5 L918.7,1048.5 L921.9,1051.6 L925.0,1054.7 L928.1,1057.9 L931.2,1061.0 L934.3,1064.2 L937.3,1067.4 L940.3,1070.7 L943.3,1073.9 L946.3,1077.2 L949.3,1080.5 L952.2,1083.8 L955.1,1087.2 L958.0,1090.5 L960.9,1093.9 L963.7,1097.3 L966.5,1100.8 L969.3,1104.2 L972.1,1107.7 L974.8,1111.2 L977.5,1114.7 L980.3,1118.2 L982.9,1121.7 L985.6,1125.3 L988.2,1128.9 L990.9,1132.5 L993.5,1136.1 L996.0,1139.7 L998.6,1143.3 L1001.1,1147.0 L1003.7,1150.7 L1006.2,1154.4 L1008.6,1158.1 L1011.1,1161.8 L1013.5,1165.5 L1015.9,1169.2 L1018.3,1173.0 L1020.7,1176.7 L1023.1,1180.5 L1025.4,1184.3 L1027.8,1188.1 L1030.1,1191.9 L1032.4,1195.7 L1034.6,1199.5 L1036.9,1203.4 L1039.1,1207.2 L1041.3,1211.1 L1043.5,1214.9 L1045.7,1218.8 L1047.9,1222.7 L1050.0,1226.5 L1052.1,1230.4 L1054.2,1234.3 L1056.3,1238.2 L1058.4,1242.1 L1060.5,1246.0 L1062.5,1249.9 L1064.5,1253.8 L1066.6,1257.7 L1068.6,1261.7 L1070.5,1265.6 L1072.5,1269.5 L996.5,1562.0 L995.3,1558.2 L994.1,1554.4 L992.8,1550.6 L991.5,1546.8 L990.1,1543.1 L988.8,1539.3 L987.4,1535.6 L985.9,1531.9 L984.5,1528.2 L983.0,1524.5 L981.5,1520.8 L979.9,1517.1 L978.3,1513.5 L976.7,1509.9 L975.0,1506.2 L973.4,1502.6 L971.7,1499.0 L969.9,1495.5 L968.2,1491.9 L966.4,1488.4 L964.5,1484.8 L962.7,1481.3 L960.8,1477.8 L958.9,1474.3 L957.0,1470.9 L955.0,1467.4 L953.0,1464.0 L951.0,1460.6 L948.9,1457.1 L946.9,1453.8 L944.8,1450.4 L942.6,1447.0 L940.5,1443.7 L938.3,1440.4 L936.1,1437.1 L933.8,1433.8 L931.6,1430.5 L929.3,1427.3 L927.0,1424.0 L924.6,1420.8 L922.3,1417.6 L919.9,1414.4 L917.4,1411.3 L915.0,1408.1 L912.5,1405.0 L910.0,1401.9 L907.5,1398.8 L905.0,1395.7 L902.4,1392.7 L899.8,1389.7 L897.2,1386.7 L894.6,1383.7 L891.9,1380.7 L889.3,1377.7 L886.6,1374.8 L883.8,1371.9 L881.1,1369.0 L878.3,1366.1 L875.5,1363.3 L872.7,1360.4 L869.9,1357.6 L867.0,1354.8 L864.1,1352.1 L861.2,1349.3 L858.3,1346.6 L855.4,1343.9 L852.4,1341.2 L849.4,1338.6 L846.4,1336.0 L843.4,1333.4 L840.3,1330.8 L837.3,1328.3 L834.2,1325.7 L831.1,1323.2 L828.0,1320.8 L824.8,1318.3 L821.6,1315.9 L818.5,1313.5 L815.3,1311.2 L812.1,1308.9 L808.8,1306.6 L805.6,1304.3 L802.3,1302.1 L799.0,1299.9 L795.7,1297.7 L792.4,1295.5 L789.0,1293.4 L785.7,1291.3 L782.3,1289.3" fill="none" stroke="#231f20" stroke-width="4.7" stroke-linejoin="miter" stroke-miterlimit="3" stroke-linecap="butt"/>
<path d="M1051.5,854.4 L1056.0,855.6 L1060.5,856.9 L1064.9,858.2 L1069.4,859.6 L1073.8,861.0 L1078.3,862.4 L1082.7,863.9 L1087.1,865.4 L1091.5,866.9 L1095.9,868.5 L1100.2,870.1 L1104.6,871.8 L1108.9,873.5 L1113.2,875.2 L1117.5,877.0 L1121.8,878.8 L1126.1,880.6 L1130.3,882.5 L1134.6,884.4 L1138.8,886.4 L1143.0,888.4 L1147.1,890.4 L1151.3,892.5 L1155.4,894.6 L1159.6,896.7 L1163.7,898.9 L1167.7,901.1 L1171.8,903.3 L1175.8,905.6 L1179.9,907.9 L1183.9,910.3 L1187.8,912.7 L1191.8,915.1 L1195.7,917.6 L1199.6,920.1 L1203.5,922.6 L1207.4,925.2 L1211.2,927.8 L1215.0,930.4 L1218.8,933.1 L1222.5,935.8 L1226.3,938.6 L1230.0,941.3 L1233.7,944.1 L1237.3,947.0 L1241.0,949.9 L1244.6,952.8 L1248.1,955.8 L1251.7,958.7 L1255.2,961.8 L1258.7,964.8 L1262.2,967.9 L1265.6,971.0 L1269.0,974.2 L1272.4,977.3 L1275.7,980.6 L1279.0,983.8 L1282.3,987.1 L1285.6,990.4 L1288.8,993.7 L1292.0,997.1 L1295.1,1000.5 L1298.3,1003.9 L1301.4,1007.4 L1304.4,1010.9 L1307.5,1014.4 L1310.4,1018.0 L1313.4,1021.6 L1316.3,1025.2 L1319.2,1028.8 L1322.1,1032.5 L1324.9,1036.2 L1327.7,1039.9 L1330.4,1043.6 L1333.1,1047.4 L1335.8,1051.2 L1338.4,1055.0 L1341.0,1058.9 L1343.6,1062.8 L1346.1,1066.7 L1348.6,1070.6 L1351.0,1074.6 L1353.4,1078.6 L1355.8,1082.6 L1358.1,1086.6 L1360.4,1090.7 L1362.6,1094.8 L1364.8,1098.9 L1367.0,1103.0 L1282.5,1399.0 L1281.3,1395.7 L1280.1,1392.3 L1278.9,1389.0 L1277.7,1385.6 L1276.5,1382.3 L1275.2,1379.0 L1274.0,1375.7 L1272.7,1372.4 L1271.4,1369.0 L1270.1,1365.7 L1268.7,1362.5 L1267.4,1359.2 L1266.0,1355.9 L1264.6,1352.6 L1263.2,1349.4 L1261.8,1346.1 L1260.3,1342.9 L1258.8,1339.7 L1257.4,1336.4 L1255.8,1333.2 L1254.3,1330.0 L1252.8,1326.8 L1251.2,1323.7 L1249.6,1320.5 L1248.0,1317.3 L1246.3,1314.2 L1244.7,1311.1 L1243.0,1308.0 L1241.3,1304.9 L1239.6,1301.8 L1237.8,1298.7 L1236.0,1295.7 L1234.2,1292.6 L1232.4,1289.6 L1230.5,1286.6 L1228.6,1283.6 L1226.7,1280.6 L1224.8,1277.7 L1222.8,1274.7 L1220.8,1271.8 L1218.8,1268.9 L1216.8,1266.0 L1214.7,1263.1 L1212.6,1260.3 L1210.5,1257.5 L1208.3,1254.7 L1206.2,1251.9 L1203.9,1249.1 L1201.7,1246.4 L1199.5,1243.6 L1197.2,1240.9 L1194.9,1238.3 L1192.5,1235.6 L1190.1,1233.0 L1187.8,1230.4 L1185.3,1227.8 L1182.9,1225.2 L1180.4,1222.7 L1177.9,1220.2 L1175.4,1217.7 L1172.9,1215.2 L1170.3,1212.8 L1167.7,1210.3 L1165.1,1208.0 L1162.4,1205.6 L1159.8,1203.3 L1157.1,1201.0 L1154.4,1198.7 L1151.6,1196.4 L1148.9,1194.2 L1146.1,1192.0 L1143.3,1189.9 L1140.4,1187.7 L1137.6,1185.6 L1134.7,1183.6 L1131.8,1181.5 L1128.9,1179.5 L1125.9,1177.5 L1122.9,1175.6 L1119.9,1173.7 L1116.9,1171.8 L1113.9,1170.0 L1110.8,1168.2 L1107.7,1166.4 L1104.6,1164.6 L1101.5,1162.9 L1098.4,1161.2 L1095.2,1159.6 L1092.0,1158.0" fill="none" stroke="#231f20" stroke-width="4.7" stroke-linejoin="miter" stroke-miterlimit="3" stroke-linecap="butt"/>
<text x="390.9" y="683.1" font-size="45.4">NR 40/200</text>
<text x="390.9" y="854.6" font-size="45.4">NR 40/160</text>
<text x="390.9" y="1075.6" font-size="45.4">NR 40/125</text>
<text x="679.4" y="412.6" font-size="45.4">NR 50/250</text>
<text x="683.1" y="609.4" font-size="45.4">NR 50/200</text>
<text x="768.1" y="906.1" font-size="45.4">NR 50/160</text>
<text x="805.6" y="1241.8" font-size="45.4">NR 50/125</text>
<text x="1109.4" y="479.2" font-size="45.4">NR 65/250</text>
<text x="1086.4" y="615.1" font-size="45.4">NR 65/200</text>
<text x="1112.4" y="835.6" font-size="45.4">NR 65/160</text>
<text x="1116.9" y="1101.8" font-size="45.4">NR 65/125</text>
<text x="390.9" y="1419.6" font-size="45.4" style="fill:#ee3239">NR 50</text>
<text x="92.0" y="226.0" font-size="45.0" text-anchor="end" font-weight="normal" >100</text>
<text transform="translate(88.0,540.7) scale(1.040,1)" font-size="45.0" text-anchor="end" font-weight="normal" >50</text>
<text transform="translate(86.7,642.3) scale(1.040,1)" font-size="45.0" text-anchor="end" font-weight="normal" >40</text>
<text transform="translate(86.7,773.3) scale(1.040,1)" font-size="45.0" text-anchor="end" font-weight="normal" >30</text>
<text transform="translate(86.7,960.2) scale(1.040,1)" font-size="45.0" text-anchor="end" font-weight="normal" >20</text>
<text x="86.0" y="1281.2" font-size="45.0" text-anchor="end" font-weight="normal" >10</text>
<text x="80.0" y="1602.2" font-size="45.0" text-anchor="end" font-weight="normal" >5</text>
<text x="38.6" y="352.5" font-size="57.5" text-anchor="start" font-weight="bold" >H</text>
<text transform="translate(37.7,404.8) scale(1.050,1)" font-size="44.0" text-anchor="start" font-weight="normal" >m</text>
<text transform="translate(96.7,1640.0) scale(1.075,1)" font-size="43.2" text-anchor="start" font-weight="normal" >6</text>
<text transform="translate(345.0,1640.0) scale(1.035,1)" font-size="43.2" text-anchor="start" font-weight="normal" >10</text>
<text transform="translate(549.0,1640.0) scale(1.035,1)" font-size="43.2" text-anchor="start" font-weight="normal" >15</text>
<text transform="translate(700.8,1640.0) scale(1.075,1)" font-size="43.2" text-anchor="start" font-weight="normal" >20</text>
<text transform="translate(908.3,1640.0) scale(1.075,1)" font-size="43.2" text-anchor="start" font-weight="normal" >30</text>
<text transform="translate(1053.0,1640.0) scale(1.075,1)" font-size="43.2" text-anchor="start" font-weight="normal" >40</text>
<text transform="translate(1170.7,1640.0) scale(1.075,1)" font-size="43.2" text-anchor="start" font-weight="normal" >50</text>
<text transform="translate(1512.3,1640.0) scale(1.035,1)" font-size="43.2" text-anchor="start" font-weight="normal" >100</text>
<text transform="translate(79.5,1696.9) scale(1.035,1)" font-size="43.2" text-anchor="start" font-weight="normal" >100</text>
<text transform="translate(423.3,1696.9) scale(1.075,1)" font-size="43.2" text-anchor="start" font-weight="normal" >200</text>
<text transform="translate(633.6,1696.9) scale(1.075,1)" font-size="43.2" text-anchor="start" font-weight="normal" >300</text>
<text transform="translate(781.8,1696.9) scale(1.075,1)" font-size="43.2" text-anchor="start" font-weight="normal" >400</text>
<text transform="translate(896.5,1697.1) scale(1.075,1)" font-size="43.2" text-anchor="start" font-weight="normal" >500</text>
<text transform="translate(1246.3,1694.8) scale(1.035,1)" font-size="43.2" text-anchor="start" font-weight="normal" >1000</text>
<text transform="translate(1449.0,1694.8) scale(1.035,1)" font-size="43.2" text-anchor="start" font-weight="normal" >1500</text>
<text transform="translate(160.6,1668.7) scale(1.020,1)" font-size="55.3" text-anchor="start" font-weight="bold" >O</text>
<line x1="185.6" y1="1658.6" x2="200.3" y2="1671.6" stroke="#231f20" stroke-width="7.4"/>
<text x="212.0" y="1645.5" font-size="45.0" text-anchor="start" font-weight="normal" >m</text>
<text x="241.9" y="1628.2" font-size="32.5" text-anchor="start" font-weight="normal" >3</text>
<text x="263.0" y="1645.5" font-size="45.0" text-anchor="start" font-weight="normal" >/h</text>
<text x="212.5" y="1692.7" font-size="43.5" text-anchor="start" font-weight="normal" textLength="95.6" lengthAdjust="spacingAndGlyphs">l/min</text>
<text x="396.8" y="117.4" font-size="76.0" text-anchor="start" font-weight="bold" textLength="285.5" lengthAdjust="spacingAndGlyphs">Область</text>
<text x="712.7" y="117.4" font-size="76.0" text-anchor="start" font-weight="bold" textLength="398.4" lengthAdjust="spacingAndGlyphs">применения</text>
<text x="1035.3" y="290.5" font-size="86.5" text-anchor="start" font-weight="bold" textLength="121" lengthAdjust="spacingAndGlyphs">NR</text>
<text x="1181.0" y="290.5" font-size="53.0" text-anchor="start" font-weight="normal" textLength="317" lengthAdjust="spacingAndGlyphs">n ≈ 2900 rpm</text>
<line x1="104.5" y1="1725.5" x2="1550" y2="1725.5" stroke="#231f20" stroke-width="4.8"/>
<line x1="105.2" y1="1708.0" x2="105.2" y2="1725" stroke="#050304" stroke-width="1.6"/>
<line x1="314.2" y1="1708.0" x2="314.2" y2="1725" stroke="#050304" stroke-width="1.6"/>
<line x1="462.4" y1="1708.0" x2="462.4" y2="1725" stroke="#050304" stroke-width="1.6"/>
<line x1="577.8" y1="1708.0" x2="577.8" y2="1725" stroke="#050304" stroke-width="1.6"/>
<line x1="671.4" y1="1708.0" x2="671.4" y2="1725" stroke="#050304" stroke-width="1.6"/>
<line x1="751.2" y1="1708.0" x2="751.2" y2="1725" stroke="#050304" stroke-width="1.6"/>
<line x1="820.0" y1="1708.5" x2="820.0" y2="1725" stroke="#050304" stroke-width="1.6"/>
<line x1="880.5" y1="1708.5" x2="880.5" y2="1725" stroke="#050304" stroke-width="1.6"/>
<line x1="935.5" y1="1706.0" x2="935.5" y2="1725" stroke="#444" stroke-width="1.3"/>
<line x1="1028.5" y1="1706.0" x2="1028.5" y2="1725" stroke="#444" stroke-width="1.3"/>
<line x1="1106.0" y1="1706.0" x2="1106.0" y2="1725" stroke="#444" stroke-width="1.3"/>
<line x1="1174.0" y1="1706.0" x2="1174.0" y2="1725" stroke="#444" stroke-width="1.3"/>
<line x1="1233.5" y1="1706.0" x2="1233.5" y2="1725" stroke="#444" stroke-width="1.3"/>
<line x1="1287.5" y1="1706.0" x2="1287.5" y2="1725" stroke="#444" stroke-width="1.3"/>
<line x1="1492.5" y1="1706.0" x2="1492.5" y2="1725" stroke="#444" stroke-width="1.3"/>
</svg>
</body></html>
